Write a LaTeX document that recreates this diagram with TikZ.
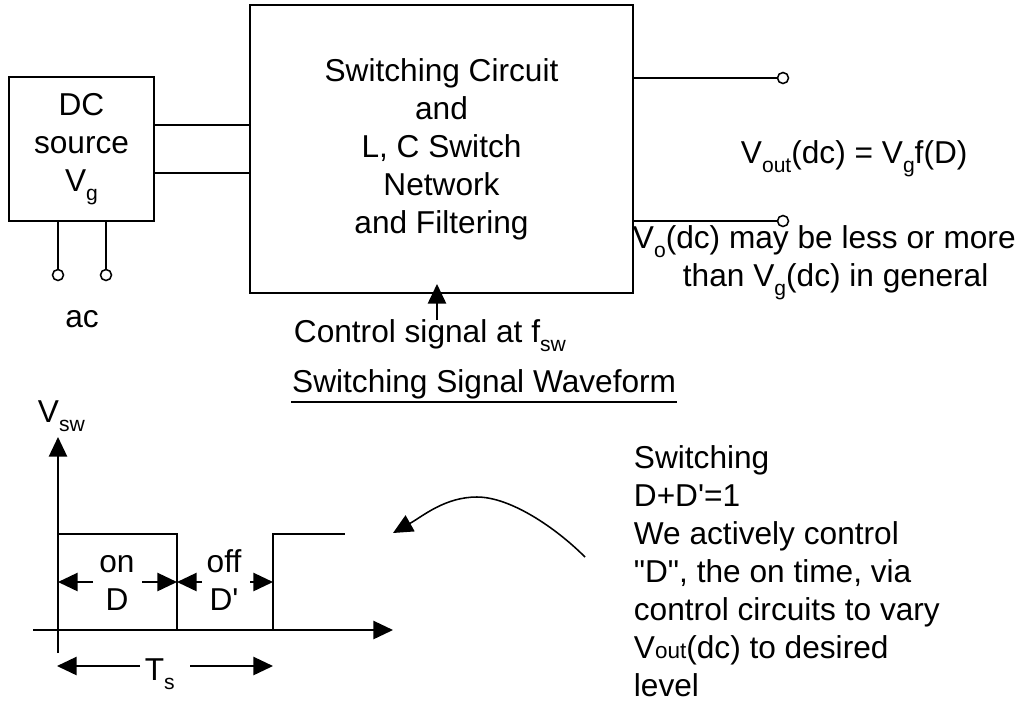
\documentclass[tikz,border=0pt]{standalone}
\usepackage{fontspec}
\setmainfont{Liberation Sans}[Ligatures=TeXOff]
\usetikzlibrary{arrows.meta,calc}
\newcommand\lsub[1]{\raisebox{-0.3em}{\fontsize{15pt}{15pt}\selectfont #1}}
\newcommand\ssm[1]{{\fontsize{16pt}{16pt}\selectfont #1}}
\begin{document}
\begin{tikzpicture}[x=0.025cm,y=-0.025cm,line width=1.3pt,
  every node/.style={font=\fontsize{22.5pt}{27pt}\selectfont,inner sep=0pt},
  blockbox/.style={draw,align=center},
  term/.style={circle,draw,fill=white,minimum size=0.275cm,inner sep=0pt,line width=1.1pt},
  arr/.style={-{Triangle[length=14pt,width=13pt]}}]
\useasboundingbox (0,0) rectangle (1025,700);
% blocks
\node[blockbox,minimum width=3.625cm,minimum height=3.6cm] (dc) at (81.5,149) {DC\\source\\V\lsub{g}};
\node[blockbox,minimum width=9.575cm,minimum height=7.2cm] (main) at (441.5,149)
  {Switching Circuit\\and\\L, C Switch\\Network\\and Filtering};
% dc to main
\coordinate (c1) at ($(dc.east)+(0,-24)$);
\coordinate (c2) at ($(dc.east)+(0,24)$);
\draw (c1) -- (c1 -| main.west);
\draw (c2) -- (c2 -| main.west);
% ac terminals
\node[term] (t1) at (58,275) {};
\node[term] (t2) at (106,275) {};
\draw (t1) -- (t1 |- dc.south);
\draw (t2) -- (t2 |- dc.south);
\node[anchor=base] (ac) at (82,327) {ac};
% outputs
\node[term] (o1) at (783,78) {};
\node[term] (o2) at (783,221) {};
\draw (o1 -| main.east) -- (o1);
\draw (o2 -| main.east) -- (o2);
\node[anchor=base west] (vout) at (740,163) {V\lsub{out}(dc) = V\lsub{g}f(D)};
\node[anchor=base west] (vo1) at (632,248) {V\lsub{o}(dc) may be less or more};
\node[anchor=base west] (vo2) at (682,286) {than V\lsub{g}(dc) in general};
% control signal
\node[anchor=base west] (ctl) at (293,342) {Control signal at f\lsub{sw}};
\coordinate (ca) at (437,320);
\draw[arr] (ca) -- ($(ca |- main.south)+(0,-10)$);
% title
\node[anchor=base east] (ssw) at (677,392) {Switching Signal Waveform};
\draw[line width=1.1pt] ($(ssw.base west)+(0,10)$) -- ($(ssw.base east)+(0,10)$);
% waveform
\node[anchor=base west] (vsw) at (37,422) {V\lsub{sw}};
\draw[arr] (58,653) -- (58,437);
\draw[arr] (33,630) -- (393,630);
\draw (58,534) -- (177,534) -- (177,630);
\draw (273,630) -- (273,534) -- (345,534);
\draw[arr] (93,582) -- (58,582);
\draw[arr] (142,582) -- (177,582);
\draw[arr] (202,582) -- (177,582);
\draw[arr] (250,582) -- (273,582);
\node[anchor=base] (on) at (117,572) {on};
\node[anchor=base] (dd) at (117,610) {D};
\node[anchor=base] (off) at (224,572) {off};
\node[anchor=base] (ddp) at (224,610) {D'};
\draw[arr] (140,666) -- (57,666);
\draw[arr] (190,666) -- (273,666);
\node[anchor=base west] (ts) at (144,680) {T\lsub{s}};
% note
\node[anchor=north west,align=left] (note) at (633,445)
  {Switching\\D+D'=1\\We actively control\\"D", the on time, via\\control circuits to vary\\V\ssm{out}(dc) to desired\\level};
\coordinate (cs0) at (585,557);
\coordinate (cpk) at (477,497);
\coordinate (ce) at (393,533);
\draw[arr,line width=1.1pt] (cs0) .. controls (555,527) and (510,497) .. (cpk) .. controls (445,497) and (423,516) .. (ce);
\end{tikzpicture}
\end{document}
